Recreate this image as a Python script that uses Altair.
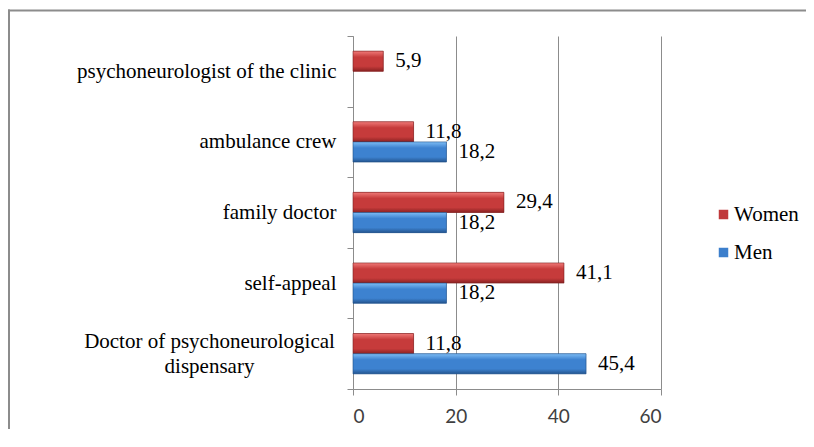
import altair as alt
import pandas as pd

categories = ["psychoneurologist of the clinic", "ambulance crew", "family doctor",
              "self-appeal", "Doctor of psychoneurological dispensary"]
women = [5.9, 11.8, 29.4, 41.1, 11.8]
men = [None, 18.2, 18.2, 18.2, 45.4]
series = ["Women", "Men"]
x_ticks = [0, 20, 40, 60]

rows = []
for c, w, m in zip(categories, women, men):
    if w is not None:
        rows.append({"cat": c, "series": "Women", "v": w})
    if m is not None:
        rows.append({"cat": c, "series": "Men", "v": m})
df = pd.DataFrame(rows)

SERIF = "Liberation Serif"
LONG = "Doctor of psychoneurological dispensary"
IS_LONG = f"datum.value == '{LONG}'"

x_enc = alt.X("v:Q", scale=alt.Scale(domain=[0, 60], nice=False, zero=True),
              axis=alt.Axis(values=x_ticks, title=None, grid=True, gridColor="#8c8c8c",
                            domainColor="#8c8c8c", tickColor="#8c8c8c", tickSize=6,
                            labelFont="Lato", labelFontSize=19, labelColor="#404040",
                            labelPadding=12))
y_enc = alt.Y("cat:N", sort=categories,
              scale=alt.Scale(paddingInner=0, paddingOuter=0),
              axis=alt.Axis(title=None, tickBand="extent", tickSize=6, tickColor="#8c8c8c",
                            domainColor="#8c8c8c", labelFont=SERIF, labelFontSize=21,
                            labelColor="black", labelLineHeight=25, labelLimit=400,
                            labelExpr=f"datum.label == '{LONG}' ? ['Doctor of psychoneurological', 'dispensary'] : datum.label",
                            labelAlign={"condition": {"test": IS_LONG, "value": "center"}, "value": "right"},
                            labelOffset={"condition": {"test": IS_LONG, "value": -12.5}, "value": 0},
                            labelPadding={"condition": {"test": IS_LONG, "value": 138}, "value": 11}))
yo_enc = alt.YOffset("series:N", sort=series,
                     scale=alt.Scale(domain=series, paddingInner=0, paddingOuter=0.75))

base = alt.Chart(df)

bars = base.mark_bar().encode(
    x=x_enc, y=y_enc, yOffset=yo_enc,
    color=alt.Color("series:N", scale=alt.Scale(domain=series, range=["#c0393b", "#3c7fcc"]),
                    legend=alt.Legend(title=None, orient="none", legendX=360, legendY=168,
                                      symbolType="square", symbolSize=90, symbolStrokeWidth=0,
                                      labelFont=SERIF, labelFontSize=21, labelColor="black",
                                      rowPadding=16, labelOffset=0, padding=0)))

def grad(top, mid, bot):
    return alt.LinearGradient(gradient="linear", x1=0, x2=0, y1=0, y2=1,
                              stops=[alt.GradientStop(offset=0, color=top),
                                     alt.GradientStop(offset=0.3, color=mid),
                                     alt.GradientStop(offset=0.75, color=mid),
                                     alt.GradientStop(offset=1, color=bot)])

red_over = base.transform_filter("datum.series == 'Women'").mark_bar(
    color=grad("#f07a78", "#c63b3b", "#8a2222"), stroke="#7a1f1f", strokeWidth=0.6
).encode(x="v:Q", y=alt.Y("cat:N", sort=categories), yOffset=yo_enc)

blue_over = base.transform_filter("datum.series == 'Men'").mark_bar(
    color=grad("#7dbcf5", "#3d82d0", "#24558f"), stroke="#1f4d85", strokeWidth=0.6
).encode(x="v:Q", y=alt.Y("cat:N", sort=categories), yOffset=yo_enc)

labels = base.transform_calculate(
    lab="replace(format(datum.v, '.1f'), '.', ',')"
).mark_text(align="left", baseline="middle", dx=12, font=SERIF, fontSize=21, color="black").encode(
    x="v:Q", y=alt.Y("cat:N", sort=categories), yOffset=yo_enc, text="lab:N")

frame_df = pd.DataFrame({"a": [0]})
frame_v = alt.Chart(frame_df).mark_rule(color="#8c8c8c", strokeWidth=2).encode(
    x=alt.value(-344), y=alt.value(-26.5), y2=alt.value(420))
frame_h = alt.Chart(frame_df).mark_rule(color="#8c8c8c", strokeWidth=2).encode(
    x=alt.value(-345), x2=alt.value(480), y=alt.value(-25.5))

chart = alt.layer(bars, red_over, blue_over, labels, frame_v, frame_h).properties(
    width=308, height=353,
    autosize=alt.AutoSizeParams(type="none"),
    padding={"left": 345, "top": 28, "right": 145, "bottom": 40},
).configure_view(stroke=None)

chart.save("out.html", embed_options={"renderer": "svg", "actions": False})
